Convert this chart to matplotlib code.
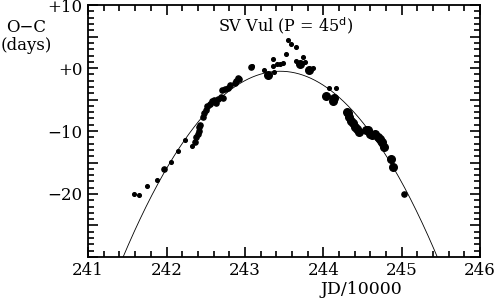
import numpy as np
import matplotlib
matplotlib.use("Agg")
import matplotlib.pyplot as plt
from matplotlib.ticker import MultipleLocator

# O-C observations (JD/10000, days), small dots
small_x = [241.58, 241.65, 241.75, 241.88, 242.06, 242.15, 242.24, 242.33,
           243.09, 243.24, 243.36, 243.36, 243.37, 243.41, 243.45, 243.48,
           243.53, 243.55, 243.59, 243.65, 243.65, 243.74, 243.76, 243.87,
           244.07, 244.16]
small_y = [-20.0, -20.2, -18.7, -17.8, -14.9, -13.1, -11.4, -12.3,
           0.3, -0.3, 1.5, 0.3, -0.6, 0.6, 0.7, 0.8,
           2.3, 4.4, 3.9, 3.4, 1.1, 1.8, 1.0, 0.0,
           -3.2, -3.2]

# medium dots
mid_x = [241.97, 242.36, 242.38, 242.40, 242.41, 242.42, 242.43, 242.46,
         242.48, 242.50, 242.52, 242.55, 242.58, 242.60, 242.63, 242.66,
         242.69, 242.72, 242.71, 242.75, 242.79, 242.81, 242.87, 242.88,
         242.91, 242.93, 243.08, 245.03]
mid_y = [-16.0, -11.8, -11.0, -10.5, -10.0, -9.4, -9.0, -7.8,
         -7.2, -6.6, -6.1, -5.7, -5.3, -5.0, -5.5, -4.9,
         -4.6, -4.8, -3.5, -3.3, -3.2, -2.7, -2.4, -2.1,
         -1.6, -1.7, 0.2, -20.0]

# large dots
big_x = [243.30, 243.70, 243.82, 244.04, 244.13, 244.12,
         244.30, 244.31, 244.33, 244.35, 244.38, 244.41, 244.43, 244.45,
         244.55, 244.57, 244.60, 244.62, 244.66, 244.70, 244.72, 244.75,
         244.78, 244.86, 244.89]
big_y = [-1.1, 0.7, -0.3, -4.4, -4.8, -5.2,
         -6.9, -7.2, -7.8, -8.4, -8.8, -9.3, -9.6, -10.1,
         -9.8, -9.9, -10.5, -10.6, -10.4, -10.9, -11.3, -11.7,
         -12.6, -14.5, -15.7]

# parabolic fit: peak position, peak value, curvature
peak_x = 243.45
peak_y = -0.5
curv = 7.35

plt.rcParams['font.family'] = ['DejaVu Serif']

fig = plt.figure(figsize=(4.95, 3.03), dpi=100)
ax = fig.add_axes([0.178, 0.152, 0.792, 0.831])

xs = np.linspace(241.0, 246.0, 400)
ax.plot(xs, peak_y - curv * (xs - peak_x) ** 2, color='black', lw=0.6)

ax.scatter(small_x, small_y, s=7, color='black', zorder=3)
ax.scatter(mid_x, mid_y, s=14, color='black', zorder=3)
ax.scatter(big_x, big_y, s=30, color='black', zorder=3)

ax.set_xlim(241, 246)
ax.set_ylim(-30, 10)
ax.xaxis.set_major_locator(MultipleLocator(1))
ax.xaxis.set_minor_locator(MultipleLocator(0.2))
ax.set_yticks([-30, -25, -20, -15, -10, -5, 0, 5, 10])
ax.set_yticklabels(['', '', '\u221220', '', '\u221210', '', '+0', '', '+10'])
ax.yaxis.set_minor_locator(MultipleLocator(1))
ax.tick_params(which='both', direction='in', top=True, right=True, width=1.2)
ax.tick_params(which='major', length=7, labelsize=12, pad=4)
ax.tick_params(which='minor', length=4)
for sp in ax.spines.values():
    sp.set_linewidth(1.3)

ax.text(0.505, 0.92, 'SV Vul (P = 45$^{\\rm d}$)', transform=ax.transAxes,
        ha='center', va='center', fontsize=11.5)
fig.text(0.053, 0.88, 'O\u2212C\n(days)', ha='center', va='center',
         fontsize=12, linespacing=1.1)
fig.text(0.73, 0.043, 'JD/10000', ha='center', va='center', fontsize=12.5)

fig.savefig('out.png', dpi=100)
